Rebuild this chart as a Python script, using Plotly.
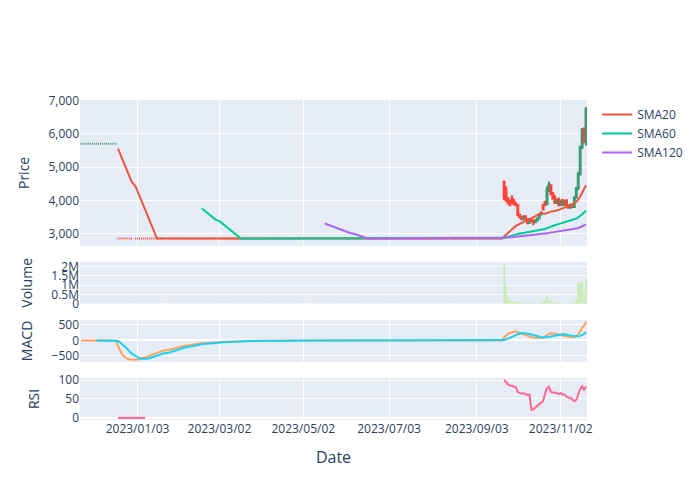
import pandas as pd
import plotly.graph_objects as go
from plotly.subplots import make_subplots

# ---------------- data ----------------
# halted period (KRX calendar, holidays have no rows)
krx_holidays = ["2022-12-30", "2023-01-23", "2023-01-24", "2023-03-01", "2023-05-01",
                "2023-05-05", "2023-05-29", "2023-06-06", "2023-08-15"]
halt_dates = pd.bdate_range("2022-11-23", "2023-09-21", freq="C", holidays=krx_holidays)
pre_halt_price = 5700
pre_halt_days = 19
halt_price = 2850

# active trading period after resumption
active_dates = pd.bdate_range("2023-09-22", "2023-11-21")
act_open = [4550, 4300, 4050, 3980, 4050, 3980, 3900, 3850, 3560, 3500,
            3430, 3520, 3430, 3320, 3420, 3400, 3340, 3390, 3450, 3570,
            3850, 3950, 3880, 4320, 4450, 4200, 4100, 3920, 4050, 3850,
            4000, 3860, 4000, 3850, 3780, 3870, 3800, 4080, 4360, 4780,
            5580, 6150, 5780]
act_high = [4600, 4420, 4100, 4020, 4150, 4050, 3950, 3860, 3600, 3520,
            3550, 3540, 3450, 3450, 3440, 3420, 3420, 3480, 3600, 3660,
            3900, 3990, 4420, 4570, 4480, 4250, 4150, 4050, 4080, 4020,
            4050, 4000, 4020, 3880, 3900, 3890, 4120, 4400, 4860, 5650,
            6180, 6200, 6800]
act_low = [4000, 3960, 3880, 3820, 3900, 3850, 3820, 3520, 3450, 3400,
           3420, 3400, 3280, 3300, 3330, 3250, 3320, 3370, 3440, 3540,
           3700, 3820, 3860, 4250, 4150, 4020, 3900, 3900, 3830, 3840,
           3840, 3850, 3830, 3750, 3770, 3780, 3790, 4060, 4300, 4760,
           5550, 5720, 5650]
act_close = [4080, 4000, 3920, 3860, 3940, 3880, 3850, 3550, 3480, 3430,
             3520, 3430, 3320, 3420, 3360, 3340, 3390, 3450, 3570, 3630,
             3720, 3870, 4320, 4470, 4190, 4050, 3920, 4000, 3850, 3990,
             3860, 3980, 3850, 3780, 3870, 3800, 4080, 4360, 4780, 5580,
             6130, 5780, 6750]
act_volume = [2130000, 950000, 350000, 220000, 180000, 150000, 140000, 100000, 70000, 60000,
              50000, 50000, 40000, 60000, 50000, 40000, 80000, 30000, 50000, 140000,
              120000, 200000, 420000, 180000, 220000, 100000, 70000, 50000, 60000, 50000,
              40000, 50000, 30000, 40000, 30000, 50000, 100000, 250000, 1100000, 1150000,
              1150000, 550000, 1300000]

tick_labels = ["2023/01/03", "2023/03/02", "2023/05/02", "2023/07/03", "2023/09/03", "2023/11/02"]
tick_dates = ["2023-01-03", "2023-03-02", "2023-05-02", "2023-07-03", "2023-09-04", "2023-11-02"]

# ---------------- assemble frame ----------------
n_halt = len(halt_dates)
halt_close = [pre_halt_price] * pre_halt_days + [halt_price] * (n_halt - pre_halt_days)
df = pd.DataFrame({
    "Open": halt_close + act_open,
    "High": halt_close + act_high,
    "Low": halt_close + act_low,
    "Close": halt_close + act_close,
    "Volume": [0] * n_halt + act_volume,
}, index=halt_dates.append(active_dates))

close = df["Close"].astype(float)
sma20 = close.rolling(20).mean()
sma60 = close.rolling(60).mean()
sma120 = close.rolling(120).mean()
macd = close.ewm(span=12).mean() - close.ewm(span=26).mean()
signal = macd.rolling(9).mean()
delta = close.diff()
gain = delta.clip(lower=0).rolling(14).mean()
loss = (-delta.clip(upper=0)).rolling(14).mean()
rsi = 100 - 100 / (1 + gain / loss)

# ---------------- figure ----------------
fig = make_subplots(rows=4, cols=1, shared_xaxes=True, vertical_spacing=0.05,
                    row_heights=[0.52, 0.15, 0.15, 0.15])

fig.add_trace(go.Candlestick(x=df.index, open=df["Open"], high=df["High"], low=df["Low"],
                             close=df["Close"], name="Price", showlegend=False), row=1, col=1)
fig.add_trace(go.Scatter(x=df.index, y=sma20, mode="lines", name="SMA20",
                         line=dict(color="#EF553B")), row=1, col=1)
fig.add_trace(go.Scatter(x=df.index, y=sma60, mode="lines", name="SMA60",
                         line=dict(color="#00CC96")), row=1, col=1)
fig.add_trace(go.Scatter(x=df.index, y=sma120, mode="lines", name="SMA120",
                         line=dict(color="#AB63FA")), row=1, col=1)
fig.add_trace(go.Bar(x=df.index, y=df["Volume"], name="Volume", showlegend=False,
                     marker_color="#B6E880"), row=2, col=1)
fig.add_trace(go.Scatter(x=df.index, y=macd, mode="lines", name="MACD", showlegend=False,
                         line=dict(color="#FFA15A")), row=3, col=1)
fig.add_trace(go.Scatter(x=df.index, y=signal, mode="lines", name="Signal", showlegend=False,
                         line=dict(color="#19D3F3")), row=3, col=1)
fig.add_trace(go.Scatter(x=df.index, y=rsi, mode="lines", name="RSI", showlegend=False,
                         line=dict(color="#FF6692")), row=4, col=1)

fig.update_xaxes(tickmode="array", tickvals=tick_dates, ticktext=tick_labels,
                 rangeslider_visible=False, rangebreaks=[dict(bounds=["sat", "mon"])])
fig.update_xaxes(title_text="Date", title_font_size=16, row=4, col=1)
fig.update_yaxes(title_text="Price", tickformat=",", row=1, col=1)
fig.update_yaxes(title_text="Volume", row=2, col=1)
fig.update_yaxes(title_text="MACD", row=3, col=1)
fig.update_yaxes(title_text="RSI", row=4, col=1)
fig.update_layout(width=700, height=500)

fig.write_html("out.html")
